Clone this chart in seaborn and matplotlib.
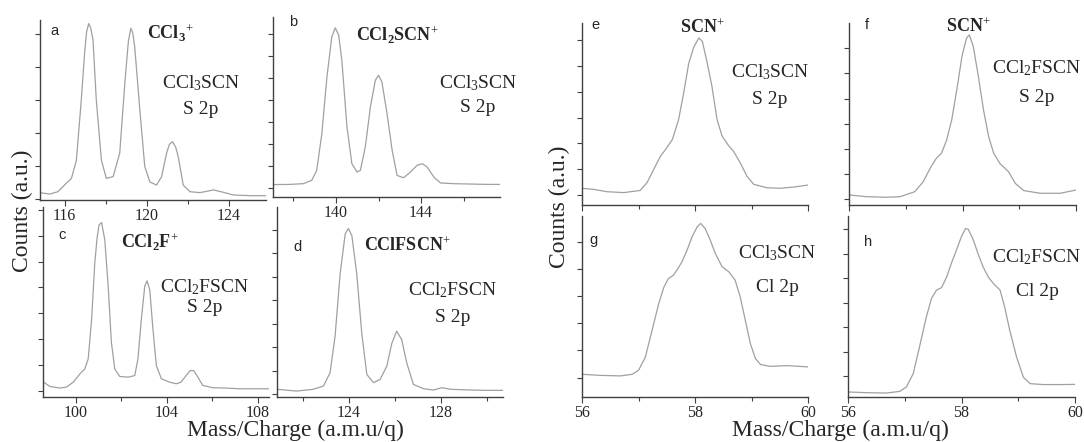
import numpy as np
import matplotlib
matplotlib.use("Agg")
import matplotlib.pyplot as plt
from matplotlib.ticker import MultipleLocator, FixedLocator, NullFormatter
import seaborn as sns

# ---------------- data (arbitrary counts) ----------------
a_x = [114.78, 115.27, 115.67, 116.08, 116.33, 116.57, 116.81, 116.98, 117.07, 117.17, 117.27,
       117.38, 117.54, 117.79, 118.03, 118.36, 118.68, 118.93, 119.10, 119.22, 119.31, 119.41,
       119.66, 119.90, 120.15, 120.47, 120.72, 120.96, 121.10, 121.25, 121.40, 121.53, 121.77,
       122.10, 122.58, 122.91, 123.24, 123.72, 124.20, 125.02, 125.84]
a_y = [4.1, 3.3, 4.6, 9.3, 12.0, 22.0, 55.6, 83.0, 93.5, 98.0, 95.5,
       89.0, 55.6, 22.0, 12.0, 13.0, 26.0, 65.0, 88.0, 95.4, 93.0, 85.0,
       50.0, 18.5, 10.0, 8.3, 13.0, 26.0, 31.0, 32.4, 29.5, 24.0, 8.3,
       4.6, 4.1, 4.8, 5.6, 4.3, 2.8, 2.4, 2.4]

b_x = [137.07, 137.85, 138.48, 138.87, 139.10, 139.34, 139.58, 139.81, 139.97, 140.13, 140.28,
       140.52, 140.75, 140.99, 141.15, 141.38, 141.62, 141.85, 142.00, 142.16, 142.40, 142.64,
       142.87, 143.18, 143.50, 143.81, 144.05, 144.28, 144.60, 144.91, 145.54, 146.32, 147.10,
       147.73]
b_y = [6.9, 7.0, 7.4, 9.3, 14.8, 35.0, 66.7, 89.0, 94.0, 90.0, 76.0,
       39.0, 18.5, 13.9, 14.8, 27.8, 50.0, 64.8, 67.6, 63.9, 46.3, 26.0,
       12.0, 10.7, 13.9, 17.6, 18.5, 16.7, 11.0, 7.8, 7.4, 7.2, 7.0,
       7.0]

c_x = [98.57, 98.86, 99.30, 99.59, 99.88, 100.18, 100.39, 100.54, 100.69, 100.83, 100.93,
       101.02, 101.13, 101.27, 101.42, 101.56, 101.71, 101.93, 102.30, 102.59, 102.73, 102.88,
       103.03, 103.13, 103.25, 103.39, 103.54, 103.76, 104.12, 104.42, 104.63, 104.85, 105.03,
       105.18, 105.37, 105.58, 106.02, 106.61, 107.19, 107.78, 108.48]
c_y = [8.3, 5.9, 5.0, 5.6, 8.3, 13.0, 15.7, 21.3, 43.5, 75.0, 89.0,
       96.3, 97.6, 88.0, 62.0, 30.6, 15.7, 11.5, 11.1, 12.0, 21.3, 43.5,
       62.0, 65.0, 60.0, 38.0, 17.6, 10.2, 8.3, 7.4, 8.3, 12.0, 14.8,
       14.8, 11.1, 6.5, 5.2, 5.0, 4.6, 4.6, 4.6]

d_x = [120.87, 121.71, 122.44, 122.88, 123.17, 123.39, 123.61, 123.83, 123.97, 124.12, 124.33,
       124.55, 124.77, 125.06, 125.35, 125.64, 125.86, 126.07, 126.29, 126.51, 126.80, 127.24,
       127.68, 128.04, 128.41, 129.28, 130.00, 130.73]
d_y = [4.3, 3.3, 4.3, 6.1, 13.5, 34.0, 69.0, 91.0, 94.0, 90.0, 69.0,
       35.7, 12.6, 8.0, 9.8, 17.2, 30.0, 36.7, 32.0, 19.0, 7.0, 4.6,
       3.9, 5.2, 4.3, 3.9, 3.7, 3.7]

e_x = [56.00, 56.21, 56.44, 56.74, 57.03, 57.15, 57.30, 57.39, 57.48, 57.60, 57.71, 57.80,
       57.89, 57.98, 58.07, 58.13, 58.21, 58.30, 58.39, 58.48, 58.60, 58.68, 58.80, 58.92,
       59.04, 59.27, 59.51, 59.75, 60.00]
e_y = [9.3, 8.7, 7.4, 6.9, 8.1, 12.4, 21.7, 27.2, 31.0, 36.5, 47.6, 62.4,
       79.0, 88.0, 93.0, 91.0, 80.0, 66.0, 47.6, 38.3, 32.8, 30.0, 23.5, 16.0,
       11.5, 9.6, 9.3, 10.0, 11.1]

f_x = [56.00, 56.31, 56.66, 56.90, 57.16, 57.31, 57.43, 57.54, 57.63, 57.72, 57.81, 57.90,
       57.99, 58.07, 58.12, 58.19, 58.28, 58.37, 58.46, 58.55, 58.66, 58.81, 58.93, 59.08,
       59.37, 59.72, 60.00]
f_y = [5.6, 4.6, 4.3, 4.6, 7.4, 13.0, 20.4, 26.0, 28.7, 36.0, 47.2, 64.0,
       82.4, 92.6, 94.4, 88.0, 71.3, 52.8, 38.0, 28.7, 23.0, 18.5, 12.0, 8.0,
       6.5, 6.5, 8.3]

g_x = [56.00, 56.32, 56.68, 56.89, 57.00, 57.12, 57.24, 57.36, 57.45, 57.53, 57.62, 57.68,
       57.77, 57.86, 57.95, 58.04, 58.10, 58.18, 58.27, 58.36, 58.48, 58.60, 58.71, 58.80,
       58.89, 58.98, 59.07, 59.16, 59.33, 59.63, 60.00]
g_y = [12.6, 12.0, 11.7, 12.6, 14.8, 22.0, 37.0, 52.0, 61.0, 65.7, 67.6, 70.4,
       75.0, 81.5, 89.0, 94.4, 96.3, 93.5, 87.0, 79.6, 72.2, 69.4, 64.8, 55.6,
       42.6, 29.6, 21.3, 18.0, 17.0, 17.4, 16.7]

h_x = [56.00, 56.32, 56.68, 56.91, 57.03, 57.15, 57.26, 57.38, 57.47, 57.56, 57.65, 57.74,
       57.82, 57.91, 58.00, 58.07, 58.12, 58.21, 58.29, 58.38, 58.47, 58.56, 58.68, 58.76,
       58.85, 58.97, 59.09, 59.21, 59.44, 59.74, 60.00]
h_y = [2.8, 2.4, 2.2, 3.1, 5.6, 13.0, 27.8, 44.4, 54.6, 59.3, 60.7, 66.7,
       74.0, 81.5, 89.0, 93.5, 93.0, 87.0, 79.6, 72.2, 66.7, 63.0, 59.3, 50.0,
       37.0, 22.2, 11.0, 7.4, 6.9, 6.9, 7.0]

panel_letters = ["a", "b", "c", "d", "e", "f", "g", "h"]
ion_labels = [r"CCl$_\mathbf{3}$$^{+}$", r"CCl$_\mathbf{2}$SCN$^{+}$", r"CCl$_\mathbf{2}$F$^{+}$",
              r"CClFSCN$^{+}$", r"SCN$^{+}$", r"SCN$^{+}$"]
molecule_labels = [r"CCl$_3$SCN", r"CCl$_3$SCN", r"CCl$_2$FSCN", r"CCl$_2$FSCN",
                   r"CCl$_3$SCN", r"CCl$_2$FSCN", r"CCl$_3$SCN", r"CCl$_2$FSCN"]
edge_labels = ["S 2p", "S 2p", "S 2p", "S 2p", "S 2p", "S 2p", "Cl 2p", "Cl 2p"]
xlabel_text = "Mass/Charge (a.m.u/q)"
ylabel_text = "Counts (a.u.)"

# ---------------- style ----------------
sns.set_style("ticks")
plt.rcParams["font.family"] = ["Liberation Serif", "DejaVu Serif"]
plt.rcParams["mathtext.fontset"] = "custom"
plt.rcParams["mathtext.rm"] = "Liberation Serif"
plt.rcParams["mathtext.it"] = "Liberation Serif:italic"
plt.rcParams["mathtext.bf"] = "Liberation Serif:bold"

W, H = 1084, 442
fig = plt.figure(figsize=(W / 100, H / 100), dpi=100)
fig.patch.set_facecolor("white")

LINE = "#a0a0a0"
SPINE = "#404040"


def px_axes(l, t, r, b):
    return fig.add_axes([l / W, 1 - b / H, (r - l) / W, (b - t) / H])


def ftext(x, y, s, **kw):
    fig.text(x / W, 1 - y / H, s, ha=kw.pop("ha", "center"), va=kw.pop("va", "center"), **kw)


# (xdata, ydata, box px, xlim, ylim, major, minor, ytick start, ytick step, show xlabels)
panels = [
    (a_x, a_y, (40, 20, 266, 200), (114.8, 125.8), (0, 100), [116, 120, 124], 2, 0.5, 18.4, True),
    (b_x, b_y, (273, 17, 500, 197), (137.05, 147.7), (0, 100), [140, 144], 2, 5.0, 12.2, True),
    (c_x, c_y, (43, 207, 269, 397), (98.55, 108.5), (0, 106.3), [100, 104, 108], 2, 3.3, 14.5, True),
    (d_x, d_y, (277, 207, 503, 397), (120.86, 130.7), (0, 106), [124, 128], 2, 1.5, 13.1, True),
    (e_x, e_y, (582, 23, 808, 205), (56, 60), (0, 101.3), [56, 58, 60], 1, 5.6, 14.35, False),
    (f_x, f_y, (849, 23, 1076, 205), (56, 60), (0, 101), [56, 58, 60], 1, 3.1, 14.0, False),
    (g_x, g_y, (582, 216, 808, 397), (56, 60), (0, 100.4), [56, 58, 60], 1, 10.7, 15.1, True),
    (h_x, h_y, (848, 216, 1075, 397), (56, 60), (0, 100.4), [56, 58, 60], 1, 11.5, 13.6, True),
]

for (xs, ys, box, xl, yl, major, minor, y0, dy, showlab) in panels:
    ax = px_axes(*box)
    sns.lineplot(x=xs, y=ys, ax=ax, color=LINE, linewidth=0.9)
    ax.set_xlim(*xl)
    ax.set_ylim(*yl)
    ax.xaxis.set_major_locator(FixedLocator(major))
    ax.xaxis.set_minor_locator(MultipleLocator(minor))
    ax.yaxis.set_major_locator(FixedLocator(list(np.arange(y0, yl[1], dy))))
    ax.yaxis.set_major_formatter(NullFormatter())
    if not showlab:
        ax.xaxis.set_major_formatter(NullFormatter())
    ax.tick_params(axis="x", which="major", direction="out", length=4, width=0.8,
                   color=SPINE, labelsize=11.5, pad=2)
    ax.tick_params(axis="x", which="minor", direction="out", length=3, width=0.8, color=SPINE)
    ax.tick_params(axis="y", which="major", direction="out", length=3.5, width=0.8, color=SPINE)
    for s in ["top", "right"]:
        ax.spines[s].set_visible(False)
    for s in ["left", "bottom"]:
        ax.spines[s].set_color(SPINE)
        ax.spines[s].set_linewidth(1.0)
    ax.set_xlabel("")
    ax.set_ylabel("")
    ax.patch.set_alpha(0)

# panel letters (sans)
letter_pos = [(54, 31), (293, 22), (62, 235), (298, 247), (595, 25), (867, 25), (593, 240), (868, 242)]
for (x, y), s in zip(letter_pos, panel_letters):
    ftext(x, y, s, fontsize=10.5, family=["Liberation Sans", "DejaVu Sans"])

# ion labels (bold)
ion_pos = [(170, 33), (397, 35), (150, 242), (407, 246), (702, 28), (968, 27)]
for (x, y), s in zip(ion_pos, ion_labels):
    ftext(x, y, s, fontsize=13, fontweight="bold")

# molecule / edge labels
mol_pos = [(201, 83), (478, 83), (205, 287), (453, 290), (770, 72), (1037, 68), (777, 253), (1037, 257)]
edge_pos = [(201, 110), (478, 108), (205, 308), (453, 317), (770, 100), (1037, 97), (777, 288), (1037, 292)]
for (x, y), s in zip(mol_pos, molecule_labels):
    ftext(x, y, s, fontsize=14)
for (x, y), s in zip(edge_pos, edge_labels):
    ftext(x, y, s, fontsize=14)

# axis titles
ftext(22, 211, ylabel_text, fontsize=17, rotation=90)
ftext(559, 207, ylabel_text, fontsize=17, rotation=90)
ftext(295, 430, xlabel_text, fontsize=17)
ftext(840, 430, xlabel_text, fontsize=17)

fig.savefig("out.png", dpi=100, facecolor="white")
